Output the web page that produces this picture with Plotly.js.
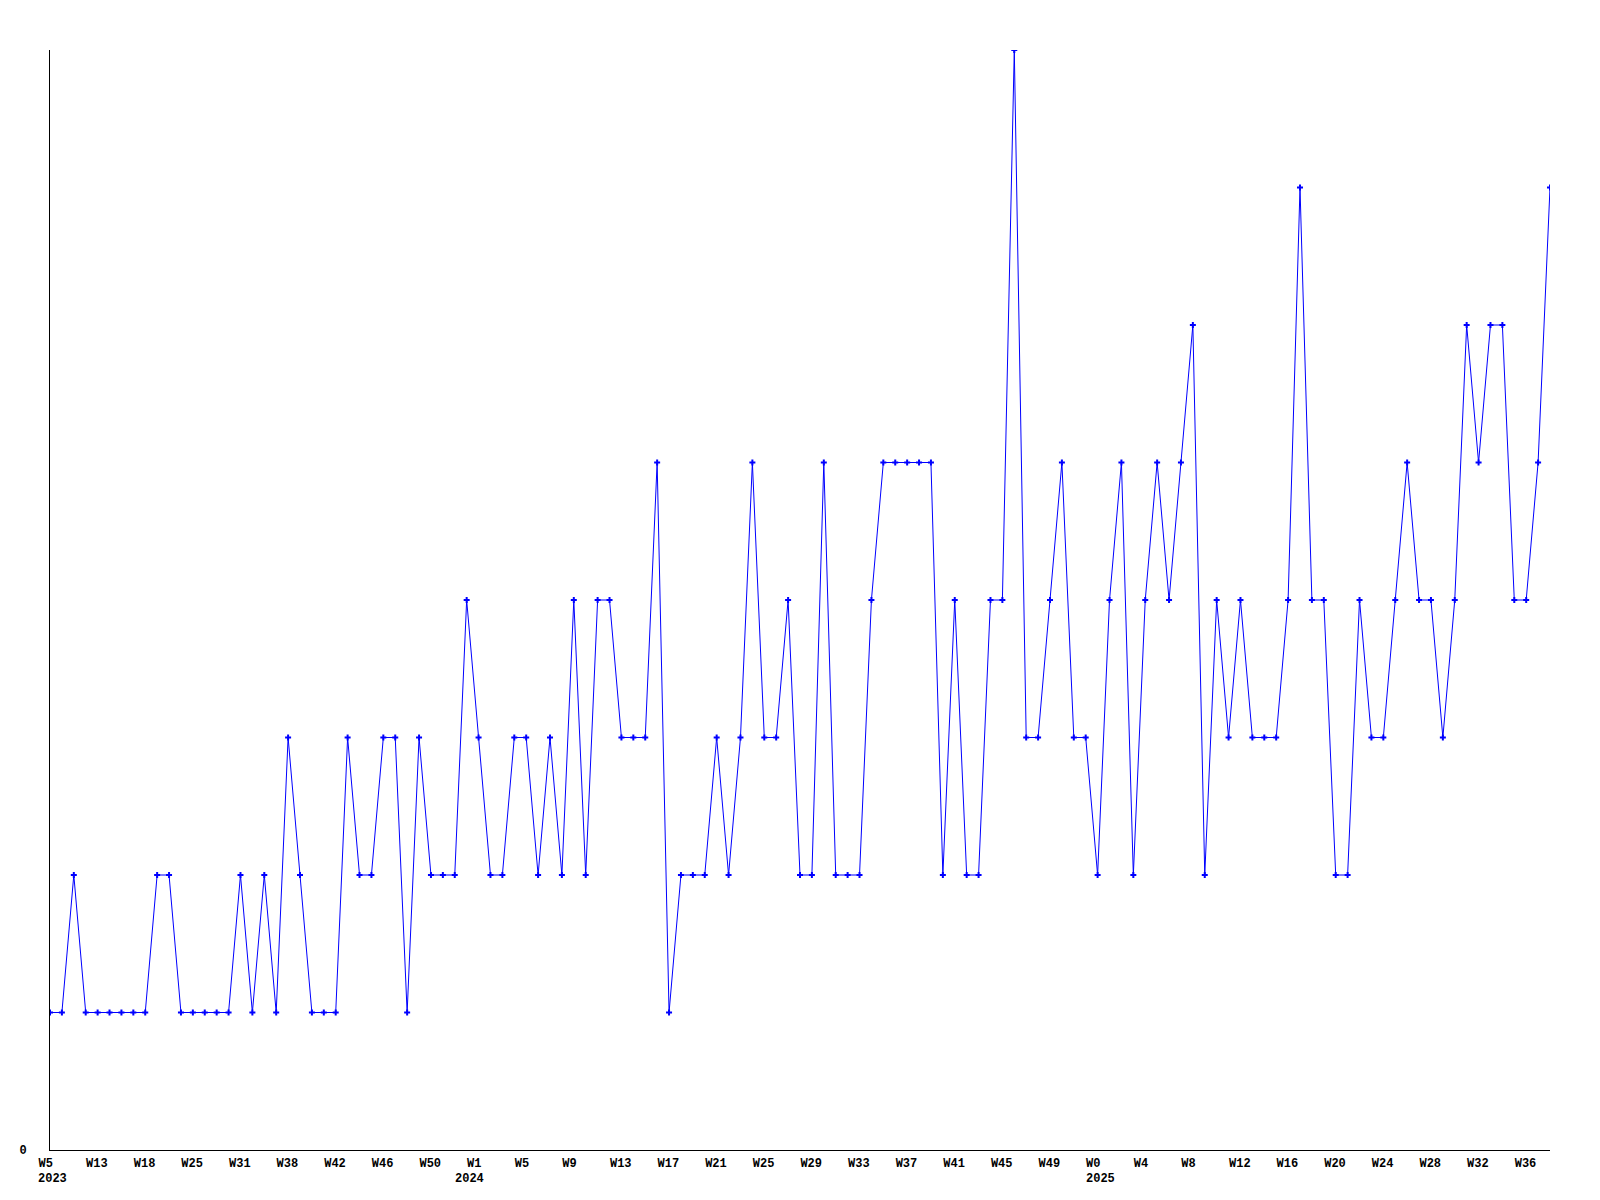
<!DOCTYPE html>
<html>
<head>
<meta charset="utf-8">
<script src="https://cdn.plot.ly/plotly-3.0.1.min.js"></script>
<style>
  html, body { margin: 0; padding: 0; background: #ffffff; }
  #chart { width: 1600px; height: 1200px; }
</style>
</head>
<body>
<div id="chart"></div>
<script>
// Weekly counts (one value per point)
const values = [
  1,1,2,1,1,1,1,1,1,2,
  2,1,1,1,1,1,2,1,2,1,
  3,2,1,1,1,3,2,2,3,3,
  1,3,2,2,2,4,3,2,2,3,
  3,2,3,2,4,2,4,4,3,3,
  3,5,1,2,2,2,3,2,3,5,
  3,3,4,2,2,5,2,2,2,4,
  5,5,5,5,5,2,4,2,2,4,
  4,8,3,3,4,5,3,3,2,4,
  5,2,4,5,4,5,6,2,4,3,
  4,3,3,3,4,7,4,4,2,2,
  4,3,3,4,5,4,4,3,4,6,
  5,6,6,4,4,5,7
];

// Week tick labels (one every 4th point)
const weekLabels = [
  'W5','W13','W18','W25','W31','W38','W42','W46','W50',
  'W1','W5','W9','W13','W17','W21','W25','W29','W33','W37','W41','W45','W49',
  'W0','W4','W8','W12','W16','W20','W24','W28','W32','W36'
];
const tickStep = 4;

// Year labels and the point index at which each appears
const yearLabels = ['2023', '2024', '2025'];
const yearIndex = [0, 35, 88];

const xIdx = values.map((_, i) => i);
const tickVals = weekLabels.map((_, k) => k * tickStep);

const labelFont = { family: 'Liberation Mono, DejaVu Sans Mono, monospace', size: 12, color: '#000000', weight: 'bold' };

const trace = {
  type: 'scatter',
  mode: 'lines+markers',
  x: xIdx,
  y: values,
  line: { color: '#0000ff', width: 1 },
  marker: { color: '#0000ff', symbol: 'cross', size: 5, line: { width: 0 } },
  hoverinfo: 'skip'
};

const annotations = yearLabels.map((t, k) => ({
  text: '<b>' + t + '</b>',
  x: yearIndex[k],
  xref: 'x',
  y: 0,
  yref: 'paper',
  xanchor: 'left',
  yanchor: 'middle',
  xshift: -14,
  yshift: -28.5,
  showarrow: false,
  font: labelFont
}));

const layout = {
  width: 1600,
  height: 1200,
  margin: { l: 50, r: 50, t: 50, b: 50, pad: 0 },
  paper_bgcolor: '#ffffff',
  plot_bgcolor: '#ffffff',
  showlegend: false,
  xaxis: {
    range: [0, values.length - 1],
    showgrid: false,
    zeroline: false,
    showline: true,
    linecolor: '#000000',
    linewidth: 1,
    ticks: '',
    tickmode: 'array',
    tickvals: tickVals,
    ticktext: weekLabels.map(s => '<b>' + s + '</b>'),
    ticklabelposition: 'outside right',
    ticklabelshift: -12,
    ticklabelstandoff: 2,
    tickfont: labelFont,
    fixedrange: true
  },
  yaxis: {
    range: [0, 8],
    showgrid: false,
    zeroline: false,
    showline: true,
    linecolor: '#000000',
    linewidth: 1,
    ticks: '',
    tickmode: 'array',
    tickvals: [0],
    ticktext: ['<b>0</b>'],
    ticklabelstandoff: 20,
    tickfont: labelFont,
    fixedrange: true
  },
  annotations: annotations
};

Plotly.newPlot('chart', [trace], layout, { displayModeBar: false, staticPlot: true });
</script>
</body>
</html>
